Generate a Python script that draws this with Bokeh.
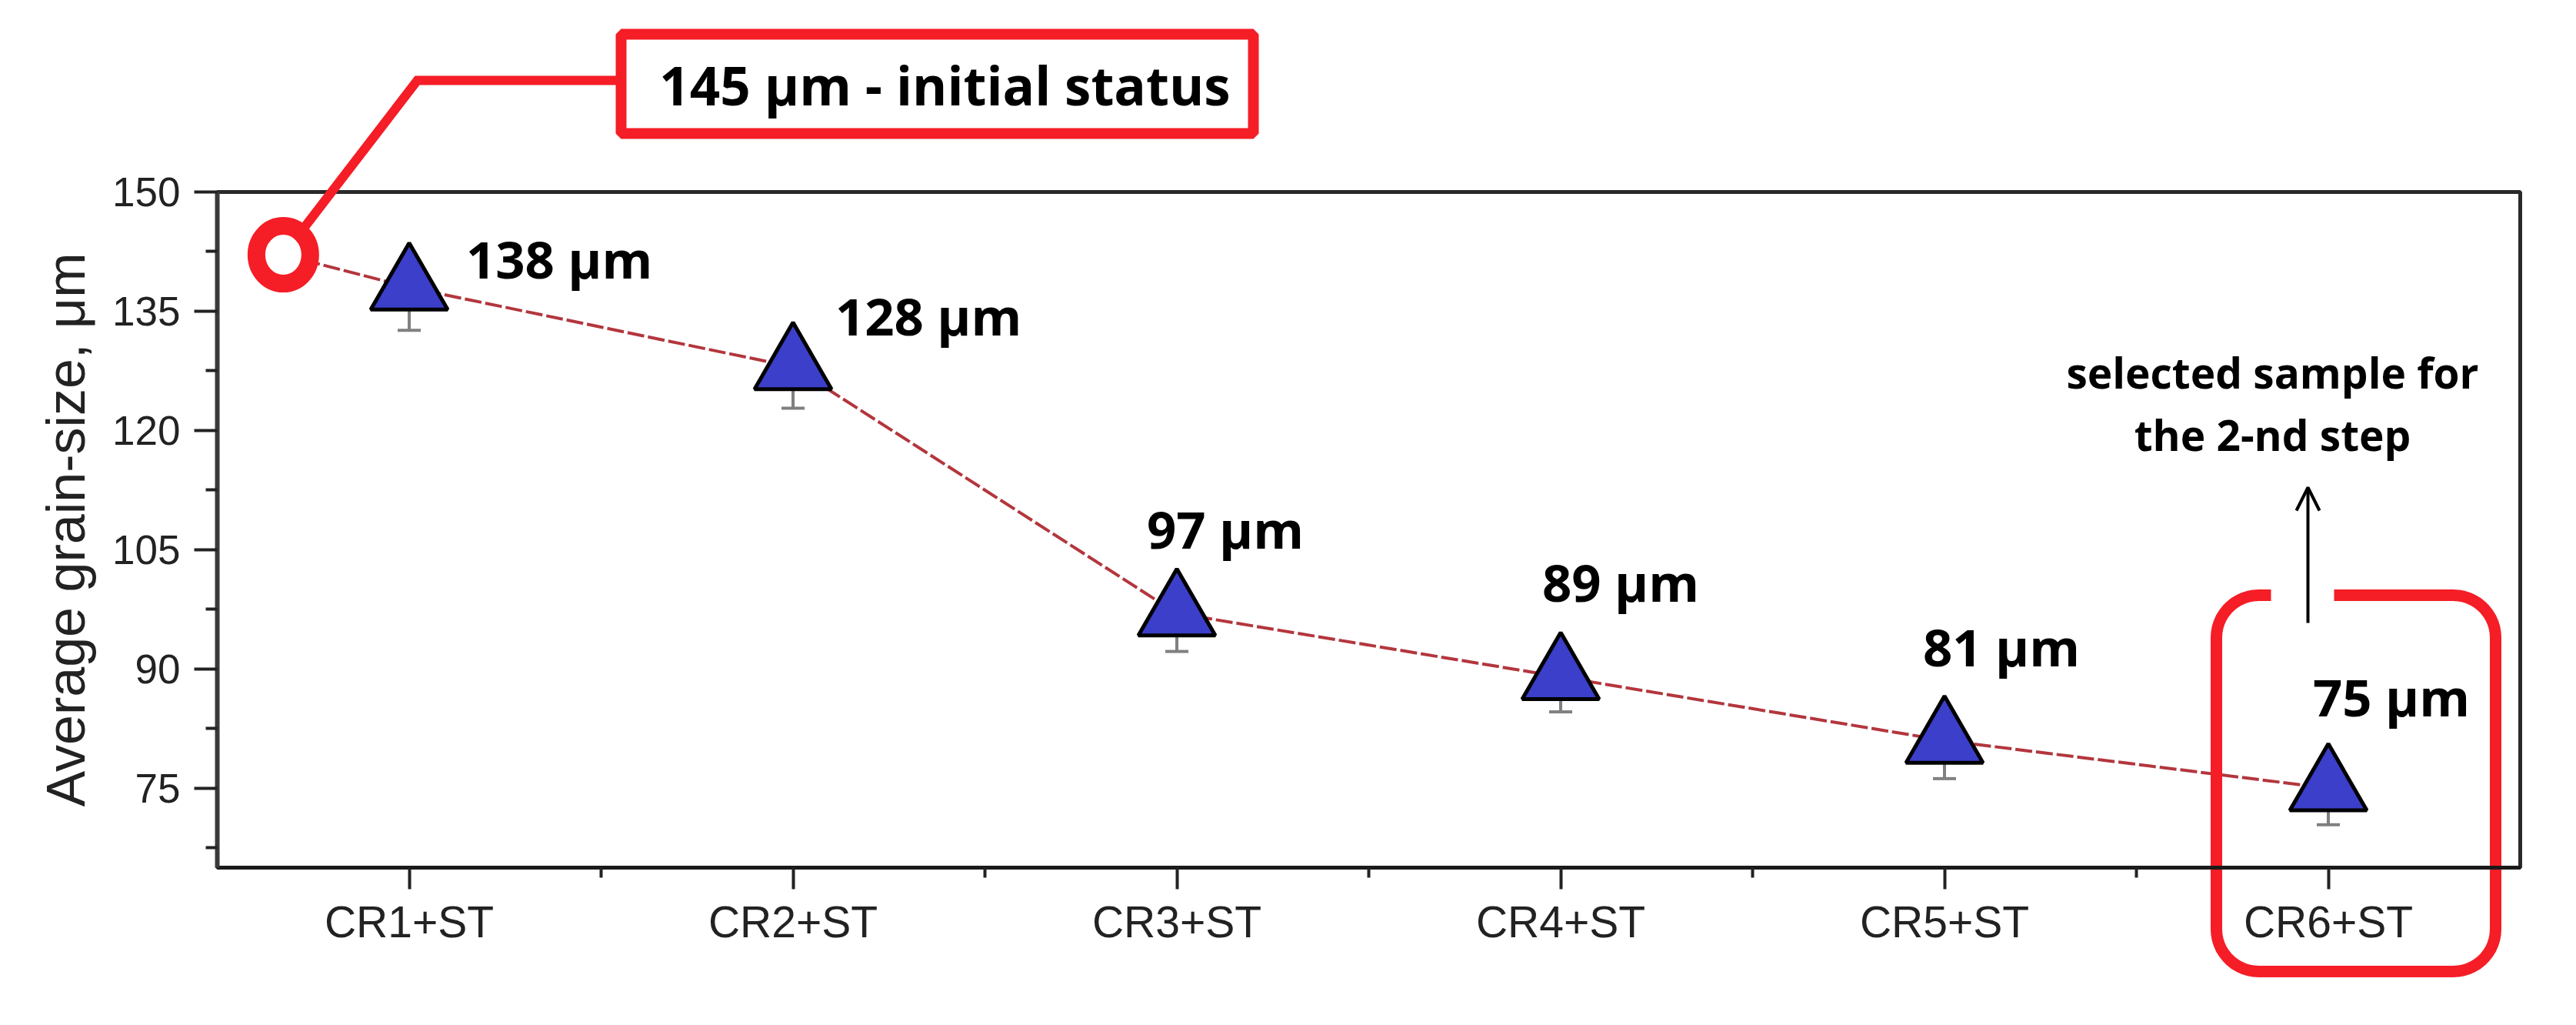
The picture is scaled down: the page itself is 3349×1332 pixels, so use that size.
import numpy as np
from bokeh.plotting import figure
from bokeh.models import (Range1d, FixedTicker, Whisker, TeeHead, ColumnDataSource,
                          Label, BoxAnnotation, Arrow, OpenHead)
from bokeh.core.properties import value
from bokeh.embed import file_html
from bokeh.resources import INLINE

# ---------------- data ----------------
categories = ["CR1+ST", "CR2+ST", "CR3+ST", "CR4+ST", "CR5+ST", "CR6+ST"]
positions = [1, 2, 3, 4, 5, 6]
grain_size = [138, 128, 97, 89, 81, 75]
grain_err = [5.4, 5.2, 4.8, 4.4, 4.8, 4.6]
initial_pos = 0.672          # drawn position of the initial-status marker
initial_size = 142.1         # drawn value of the initial-status marker
initial_text = "145 μm - initial status"
note_lines = ["selected sample for", "the 2-nd step"]
y_ticks = [75, 90, 105, 120, 135, 150]
y_minor = [67.5, 82.5, 97.5, 112.5, 127.5, 142.5]
x_minor = [1.5, 2.5, 3.5, 4.5, 5.5]
y_label = "Average grain-size, μm"

# label placement (screen px offsets from each point)
label_dx = [74, 55, -39, -24, -28, -20]
label_dy = [-37, -67, -110, -124, -122, -119]

# ---------------- layout helpers (page px -> data) ----------------
XPX0, XS = 290.0, 499.0      # page px of x=0.5, px per x unit
YPX0, YS = 257.0, 10.33      # page px of y=150, px per y unit
W, H = 3333, 1316


def xd(px):
    return 0.5 + (px - XPX0) / XS


def yd(py):
    return 150 - (py - YPX0) / YS


p = figure(width=W, height=H, output_backend="svg", toolbar_location=None,
           x_range=Range1d(xd(8), xd(8 + W)), y_range=Range1d(yd(8 + H), yd(8)),
           min_border=0, x_axis_location="below", y_axis_location="left")
p.outline_line_color = None
p.grid.visible = False
p.background_fill_color = "white"
p.border_fill_color = "white"

RED = "#f51d26"

# axes (fixed inside the full-canvas frame)
ya = p.yaxis[0]
ya.fixed_location = 0.5
ya.bounds = (65, 150)
ya.ticker = FixedTicker(ticks=y_ticks, minor_ticks=y_minor)
ya.axis_line_width = 6
ya.axis_line_color = "#3a3a3a"
ya.major_tick_out = 30
ya.major_tick_in = 0
ya.minor_tick_out = 15
ya.minor_tick_in = 0
ya.major_tick_line_width = 4
ya.minor_tick_line_width = 4
ya.major_tick_line_color = "#222"
ya.minor_tick_line_color = "#222"
ya.major_label_text_font = "Liberation Sans"
ya.major_label_text_font_size = "53px"
ya.major_label_text_color = "#222"
ya.major_label_standoff = 18
ya.axis_label = y_label
ya.axis_label_text_font = "Liberation Sans"
ya.axis_label_text_font_size = "70px"
ya.axis_label_text_font_style = "normal"
ya.axis_label_text_color = "#222"
ya.axis_label_standoff = 18

xa = p.xaxis[0]
xa.fixed_location = 65
xa.bounds = (0.5, 6.5)
xa.ticker = FixedTicker(ticks=positions, minor_ticks=x_minor)
xa.major_label_overrides = {pos: cat for pos, cat in zip(positions, categories)}
xa.axis_line_width = 5
xa.axis_line_color = "#1a1a1a"
xa.major_tick_out = 28
xa.major_tick_in = 0
xa.minor_tick_out = 13
xa.minor_tick_in = 0
xa.major_tick_line_width = 4
xa.minor_tick_line_width = 4
xa.major_tick_line_color = "#222"
xa.minor_tick_line_color = "#222"
xa.major_label_text_font = "Liberation Sans"
xa.major_label_text_font_size = "57px"
xa.major_label_text_color = "#222"
xa.major_label_standoff = 10

# frame box (top / right borders)
p.add_layout(BoxAnnotation(left=0.5, right=6.5, bottom=65, top=150,
                           fill_color=None, line_color="#2a2a2a", line_alpha=1.0,
                           line_width=5, level="underlay"))

# ---------------- data marks ----------------
src = ColumnDataSource(dict(
    x=positions, y=grain_size,
    lower=[v - e for v, e in zip(grain_size, grain_err)],
    upper=[v + e for v, e in zip(grain_size, grain_err)],
    label=[f"{v} μm" for v in grain_size],
    dx=label_dx, dy=label_dy,
))

# connecting line (from initial status through all samples)
p.line([initial_pos] + positions, [initial_size] + grain_size,
       line_color="#b3363d", line_width=4, line_dash="22 5")

p.add_layout(Whisker(source=src, base="x", lower="lower", upper="upper",
                     level="underlay", line_color="#808080", line_width=4,
                     upper_head=None,
                     lower_head=TeeHead(size=30, line_width=4, line_color="#808080")))

p.scatter("x", "y", source=src, marker="triangle", size=100,
          fill_color="#3b3fc9", line_color="black", line_width=5)

p.text(x="x", y="y", text="label", x_offset="dx", y_offset="dy", source=src,
       text_font=value("Open Sans"), text_font_style="bold",
       text_font_size="67px", text_align="left", text_baseline="middle",
       text_color="black")

# ---------------- initial status call-out ----------------
p.line([initial_pos, xd(550), xd(809)], [initial_size, yd(112), yd(112)],
       line_color=RED, line_width=12, line_join="miter")
p.ellipse(x=[initial_pos], y=[initial_size], width=70, height=75,
          width_units="screen", height_units="screen",
          fill_color="white", line_color=RED, line_width=23)
p.add_layout(BoxAnnotation(left=xd(815), right=xd(1637), top=yd(52), bottom=yd(181),
                           fill_color="white", fill_alpha=1.0,
                           line_color=RED, line_alpha=1.0, line_width=14))
p.add_layout(Label(x=xd(1236), y=yd(117), text=initial_text,
                   text_align="center", text_baseline="middle",
                   text_font="Open Sans", text_font_style="bold",
                   text_font_size="69px", text_color="black"))

# ---------------- selected sample call-out ----------------
def rounded_path(l, t, r, b, rad, gl, gr, n=14):
    xs, ys = [gr], [t]
    def arc(cx, cy, a0, a1):
        for a in np.linspace(a0, a1, n):
            xs.append(cx + rad * np.cos(a))
            ys.append(cy - rad * np.sin(a))
    xs.append(r - rad); ys.append(t)
    arc(r - rad, t + rad, np.pi / 2, 0)
    xs.append(r); ys.append(b - rad)
    arc(r - rad, b - rad, 0, -np.pi / 2)
    xs.append(l + rad); ys.append(b)
    arc(l + rad, b - rad, -np.pi / 2, -np.pi)
    xs.append(l); ys.append(t + rad)
    arc(l + rad, t + rad, np.pi, np.pi / 2)
    xs.append(gl); ys.append(t)
    return [xd(v) for v in xs], [yd(v) for v in ys]

rx, ry = rounded_path(2889, 781, 3252, 1270, 55, 2960, 3042)
p.line(rx, ry, line_color=RED, line_width=15, line_join="round")

p.add_layout(Arrow(end=OpenHead(size=30, line_width=4, line_color="black"),
                   x_start=xd(3008), y_start=yd(817), x_end=xd(3008), y_end=yd(641),
                   line_width=4, line_color="black"))

for txt, py in zip(note_lines, [491, 572]):
    p.add_layout(Label(x=xd(2962), y=yd(py), text=txt,
                       text_align="center", text_baseline="middle",
                       text_font="Open Sans", text_font_style="bold",
                       text_font_size="55px", text_color="black"))

open("out.html", "w").write(file_html(p, INLINE))
